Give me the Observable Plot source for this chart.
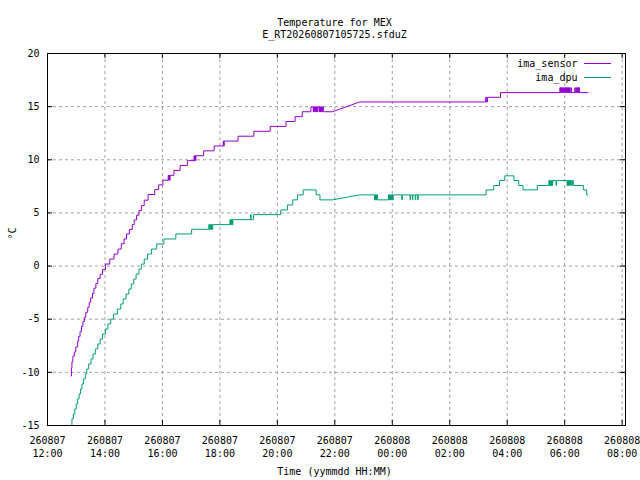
<!DOCTYPE html>
<html>
<head>
<meta charset="utf-8">
<script src="https://cdn.jsdelivr.net/npm/d3@7"></script>
<script src="https://cdn.jsdelivr.net/npm/@observablehq/plot@0.6"></script>
<style>
  html, body { margin: 0; padding: 0; background: #fff; }
  #chart svg { display: block; }
</style>
</head>
<body>
<div id="chart"></div>
<script>
// ---------------- data ----------------
const titleLines = ["Temperature for MEX", "E_RT20260807105725.sfduZ"];
const xAxisLabel = "Time (yymmdd HH:MM)";
const yAxisLabel = "°C";
const seriesNames = ["ima_sensor", "ima_dpu"];
const seriesColors = ["#9400d3", "#009e73"];

// the time axis runs a few minutes past the last tick
const xRange = ["07 12:00", "08 08:07"];
const xTicks = ["07 12:00","07 14:00","07 16:00","07 18:00","07 20:00","07 22:00",
                "08 00:00","08 02:00","08 04:00","08 06:00","08 08:00"];
const xTickLabels = ["260807\n12:00","260807\n14:00","260807\n16:00","260807\n18:00",
                     "260807\n20:00","260807\n22:00","260808\n00:00","260808\n02:00",
                     "260808\n04:00","260808\n06:00","260808\n08:00"];
const yTicks = [-15, -10, -5, 0, 5, 10, 15, 20];
const yTickLabels = ["-15", "-10", "-5", "0", "5", "10", "15", "20"];

// no samples between this time and the next one: the line is drawn straight across
const gapStart = "07 21:55";

// ima_sensor: times where the reading changes, and the new reading
const sensorTime = [
  "07 12:49","07 12:50","07 12:51","07 12:53","07 12:56","07 12:59","07 13:03","07 13:05",
  "07 13:08","07 13:11","07 13:14","07 13:17","07 13:20","07 13:24","07 13:27","07 13:30",
  "07 13:34","07 13:37","07 13:41","07 13:45","07 13:50","07 13:55","07 14:01","07 14:10",
  "07 14:19","07 14:27","07 14:34","07 14:40","07 14:45","07 14:51","07 14:57","07 15:01",
  "07 15:06","07 15:11","07 15:16","07 15:22","07 15:30","07 15:44","07 15:52","07 16:01",
  "07 16:12","07 16:13","07 16:14","07 16:15","07 16:16","07 16:24","07 16:37","07 16:52",
  "07 17:06","07 17:07","07 17:08","07 17:09","07 17:10","07 17:26","07 17:48",
  "07 18:07","07 18:08","07 18:09","07 18:38","07 19:11","07 19:45","07 20:18","07 20:37",
  "07 20:52","07 21:10",
  "07 21:15","07 21:16","07 21:17","07 21:18","07 21:19","07 21:20","07 21:21","07 21:22",
  "07 21:23","07 21:24",
  "07 21:27","07 21:28","07 21:29","07 21:30","07 21:31","07 21:32","07 21:33","07 21:34",
  "07 21:35","07 21:36",
  "07 21:55","07 22:52",
  "08 03:15","08 03:17","08 03:19","08 03:46",
  "08 05:50","08 05:51","08 05:52","08 05:53","08 05:54","08 05:55","08 05:56","08 05:57",
  "08 05:58","08 05:59","08 06:00","08 06:01","08 06:02","08 06:03","08 06:04","08 06:05",
  "08 06:06","08 06:07","08 06:08","08 06:09","08 06:10","08 06:11","08 06:12",
  "08 06:13","08 06:14","08 06:21","08 06:22",
  "08 06:24","08 06:25","08 06:26","08 06:27","08 06:28","08 06:29","08 06:30","08 06:31",
  "08 06:49"
];
const sensorTemp = [
  -10.34,-9.60,-9.01,-8.48,-8.08,-7.61,-7.05,-6.62,
  -6.15,-5.68,-5.22,-4.82,-4.35,-3.89,-3.42,-3.01,
  -2.58,-2.08,-1.65,-1.18,-0.77,-0.31,0.19,0.66,
  1.13,1.60,2.10,2.55,3.02,3.45,3.90,4.34,
  4.78,5.22,5.69,6.20,6.73,7.20,7.64,8.08,
  8.54,8.08,8.54,8.08,8.54,9.00,9.46,9.92,
  10.38,9.92,10.38,9.92,10.38,10.84,11.30,
  11.76,11.30,11.76,12.22,12.68,13.14,13.60,14.06,
  14.52,14.98,
  14.52,14.98,14.52,14.98,14.52,14.98,14.52,14.98,
  14.52,14.98,
  14.52,14.98,14.52,14.98,14.52,14.98,14.52,14.98,
  14.98,14.52,
  14.52,15.44,
  15.88,15.44,15.88,16.32,
  16.78,16.32,16.78,16.32,16.78,16.32,16.78,16.32,
  16.78,16.32,16.78,16.32,16.78,16.32,16.78,16.32,
  16.78,16.32,16.78,16.32,16.78,16.32,16.32,
  16.78,16.32,16.78,16.32,
  16.78,16.32,16.78,16.32,16.78,16.32,16.78,16.32,
  16.32
];

// ima_dpu: times where the reading changes, and the new reading
const dpuTime = [
  "07 12:50","07 12:51","07 12:54","07 12:57","07 13:00","07 13:03","07 13:06","07 13:09",
  "07 13:12","07 13:15","07 13:19","07 13:22","07 13:26","07 13:31","07 13:35","07 13:40",
  "07 13:45","07 13:50","07 13:55","07 14:01","07 14:06","07 14:12","07 14:18","07 14:26",
  "07 14:33","07 14:38","07 14:44","07 14:50","07 14:55","07 15:00","07 15:05","07 15:11",
  "07 15:16","07 15:22","07 15:29","07 15:37","07 15:48","07 16:03","07 16:28","07 17:01",
  "07 17:37","07 17:38","07 17:39","07 17:40","07 17:41","07 17:42","07 17:43","07 17:44","07 17:45",
  "07 18:21","07 18:22","07 18:23","07 18:24","07 18:25","07 18:26","07 18:27","07 18:28",
  "07 19:04","07 19:05","07 19:10",
  "07 20:07","07 20:21","07 20:32","07 20:42","07 20:54","07 21:21","07 21:29",
  "07 21:55","07 22:52",
  "07 23:23","07 23:24","07 23:25","07 23:26","07 23:27","07 23:28","07 23:29",
  "07 23:52","07 23:53","07 23:54","07 23:55","07 23:56","07 23:57","07 23:58","07 23:59",
  "08 00:00","08 00:01","08 00:02",
  "08 00:20","08 00:21","08 00:37","08 00:38","08 00:42","08 00:43","08 00:48","08 00:49",
  "08 00:53","08 00:54",
  "08 03:16","08 03:32","08 03:44","08 03:55","08 04:14","08 04:24","08 04:33","08 05:03",
  "08 05:27","08 05:28","08 05:29","08 05:30","08 05:31","08 05:32","08 05:33","08 05:34","08 05:35",
  "08 05:42","08 05:43",
  "08 06:05","08 06:06","08 06:07","08 06:08","08 06:09","08 06:10","08 06:12","08 06:13",
  "08 06:15","08 06:16","08 06:18",
  "08 06:39","08 06:46","08 06:49"
];
const dpuTemp = [
  -15.00,-14.38,-13.91,-13.44,-12.97,-12.50,-12.03,-11.56,
  -11.09,-10.62,-10.15,-9.68,-9.21,-8.74,-8.27,-7.80,
  -7.33,-6.86,-6.39,-5.92,-5.45,-4.98,-4.51,-4.04,
  -3.57,-3.10,-2.63,-2.16,-1.69,-1.22,-0.75,-0.28,
  0.19,0.66,1.13,1.60,2.08,2.55,3.02,3.46,
  3.90,3.46,3.90,3.46,3.90,3.46,3.90,3.46,3.90,
  4.37,3.90,4.37,3.90,4.37,3.90,4.37,4.37,
  4.84,4.37,4.84,
  5.28,5.75,6.23,6.70,7.17,6.70,6.23,
  6.23,6.70,
  6.23,6.70,6.23,6.70,6.23,6.70,6.23,
  6.70,6.23,6.70,6.23,6.70,6.23,6.70,6.23,
  6.70,6.23,6.70,
  6.23,6.70,6.23,6.70,6.23,6.70,6.23,6.70,
  6.23,6.70,
  7.17,7.58,8.05,8.49,8.05,7.58,7.17,7.58,
  8.05,7.58,8.05,7.58,8.05,7.58,8.05,7.58,8.05,
  7.58,8.05,
  7.58,8.05,7.58,8.05,7.58,8.05,7.58,8.05,
  7.58,8.05,7.58,
  7.17,6.70,6.70
];

// ---------------- build ----------------
const parseTime = d3.utcParse("%Y-%m-%d %H:%M");
const toDate = s => parseTime("2026-08-" + s);

// turn change points into the drawn path: hold each reading until the next change
function stepSeries(times, temps) {
  const out = [];
  for (let i = 0; i < times.length; i++) {
    const t = toDate(times[i]);
    if (i > 0 && times[i - 1] !== gapStart) out.push({t, v: temps[i - 1]});
    out.push({t, v: temps[i]});
  }
  return out;
}
const sensorPath = stepSeries(sensorTime, sensorTemp);
const dpuPath = stepSeries(dpuTime, dpuTemp);

const xDates = xTicks.map(toDate);
const xLabelOf = new Map(xDates.map((d, i) => [+d, xTickLabels[i]]));
const yLabelOf = new Map(yTicks.map((d, i) => [d, yTickLabels[i]]));
const gridColor = "#a0a0a0";

const chart = Plot.plot({
  width: 640,
  height: 480,
  marginLeft: 47,
  marginRight: 15,
  marginTop: 53,
  marginBottom: 55,
  style: {fontFamily: "'DejaVu Sans Mono', 'Liberation Mono', monospace", fontSize: "10px", background: "#fff", color: "#000"},
  x: {type: "utc", domain: xRange.map(toDate), label: null},
  y: {domain: [yTicks[0], yTicks[yTicks.length - 1]], label: null},
  marks: [
    Plot.ruleX(xDates.slice(1), {stroke: gridColor, strokeWidth: 1, strokeDasharray: "3,3"}),
    Plot.ruleY(yTicks.slice(1, -1), {stroke: gridColor, strokeWidth: 1, strokeDasharray: "3,3"}),
    Plot.line(dpuPath, {x: "t", y: "v", stroke: seriesColors[1], strokeWidth: 1}),
    Plot.line(sensorPath, {x: "t", y: "v", stroke: seriesColors[0], strokeWidth: 1}),
    Plot.frame({stroke: "#000", strokeWidth: 1}),
    // inward tick marks on all four sides
    Plot.tickX(xDates, {x: d => d, insetTop: 367, stroke: "#000"}),
    Plot.tickX(xDates, {x: d => d, insetBottom: 367, stroke: "#000"}),
    Plot.tickY(yTicks, {y: d => d, insetRight: 573, stroke: "#000"}),
    Plot.tickY(yTicks, {y: d => d, insetLeft: 573, stroke: "#000"}),
    // tick labels
    Plot.axisX(xDates, {tickSize: 0, tickPadding: 9, tickFormat: d => xLabelOf.get(+d), lineHeight: 1.3, fontSize: 10, label: null}),
    Plot.axisY(yTicks, {tickSize: 0, tickPadding: 8, tickFormat: d => yLabelOf.get(d), fontSize: 10, label: null}),
    // titles and axis labels
    Plot.text([titleLines[0]], {frameAnchor: "top", dx: -2, dy: -31, lineAnchor: "middle", fontSize: 10}),
    Plot.text([titleLines[1]], {frameAnchor: "top", dx: -2, dy: -19, lineAnchor: "middle", fontSize: 10}),
    Plot.text([xAxisLabel], {frameAnchor: "bottom", dx: -2, dy: 46, lineAnchor: "middle", fontSize: 10}),
    Plot.text([yAxisLabel], {frameAnchor: "left", dx: -35, rotate: -90, lineAnchor: "middle", fontSize: 10}),
    // legend labels
    Plot.text([seriesNames[0]], {frameAnchor: "top-right", dx: -48, dy: 10, textAnchor: "end", lineAnchor: "middle", fontSize: 10}),
    Plot.text([seriesNames[1]], {frameAnchor: "top-right", dx: -48, dy: 24, textAnchor: "end", lineAnchor: "middle", fontSize: 10})
  ]
});

// legend swatches
const svg = d3.select(chart);
[0, 1].forEach(i => {
  svg.append("line")
    .attr("x1", 584).attr("x2", 611)
    .attr("y1", 63.5 + i * 14).attr("y2", 63.5 + i * 14)
    .attr("stroke", seriesColors[i]).attr("stroke-width", 1);
});

document.getElementById("chart").appendChild(chart);
</script>
</body>
</html>
